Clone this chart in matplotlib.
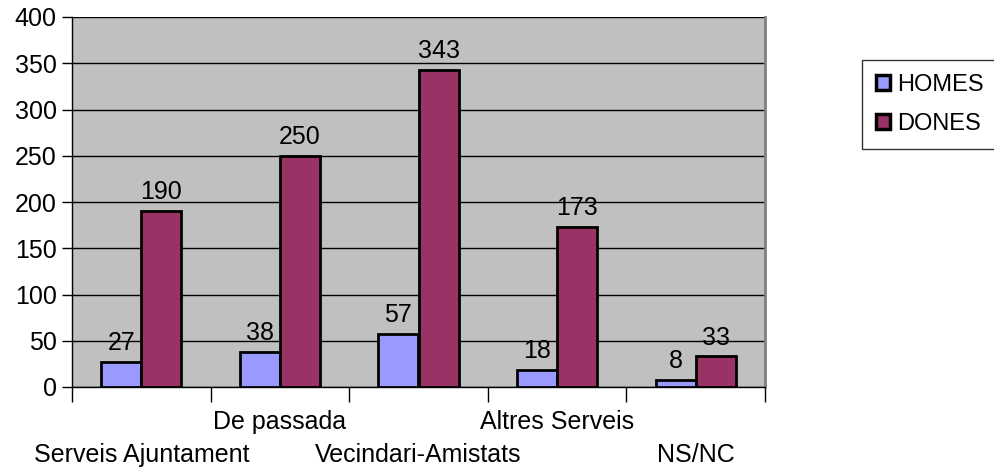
import matplotlib

matplotlib.use("Agg")
import matplotlib.pyplot as plt
import numpy as np

categories = ["Serveis Ajuntament", "De passada", "Vecindari-Amistats", "Altres Serveis", "NS/NC"]
homes = [27, 38, 57, 18, 8]
dones = [190, 250, 343, 173, 33]

plt.rcParams["font.family"] = ["Liberation Sans", "DejaVu Sans"]
fs = 18

fig = plt.figure(figsize=(9.95, 4.7), dpi=100)
ax = fig.add_axes([72 / 995, 1 - 387 / 470, (765 - 72) / 995, (387 - 17) / 470])
ax.set_facecolor("#C0C0C0")

x = np.arange(len(categories))
w = 0.29
b1 = ax.bar(x - w / 2, homes, w, color="#9999FF", edgecolor="black", linewidth=2,
            label="HOMES", zorder=3)
b2 = ax.bar(x + w / 2, dones, w, color="#993366", edgecolor="black", linewidth=2,
            label="DONES", zorder=3)
for bars in (b1, b2):
    ax.bar_label(bars, padding=5, fontsize=fs)

ax.set_xlim(-0.5, len(categories) - 0.5)
ax.set_ylim(0, 400)
ax.set_yticks(range(0, 401, 50))
ax.yaxis.grid(True, color="black", linewidth=1)
ax.set_axisbelow(True)
ax.tick_params(axis="y", labelsize=fs, length=7, width=1, pad=4)
ax.set_xticks(np.arange(-0.5, len(categories), 1))
ax.set_xticklabels([])
ax.tick_params(axis="x", length=11, width=1)
for i, name in enumerate(categories):
    y = -0.095 if i % 2 else -0.185
    ax.text(i, y, name, transform=ax.get_xaxis_transform(), ha="center", va="center",
            fontsize=fs)

for s in ("left", "bottom"):
    ax.spines[s].set_color("black")
    ax.spines[s].set_linewidth(1)
ax.spines["top"].set_visible(False)
ax.spines["right"].set_color("#808080")
ax.spines["right"].set_linewidth(2)

leg = ax.legend(loc="upper left", bbox_to_anchor=(862 / 995, 1 - 60 / 470),
                bbox_transform=fig.transFigure, fontsize=17, frameon=True,
                fancybox=False, edgecolor="black", handlelength=0.6, handleheight=0.6,
                handletextpad=0.3, borderpad=0.6, labelspacing=0.7, borderaxespad=0)
leg.get_frame().set_linewidth(1)
for h in leg.legend_handles:
    h.set_linewidth(2.5)

fig.savefig("out.png", dpi=100)
